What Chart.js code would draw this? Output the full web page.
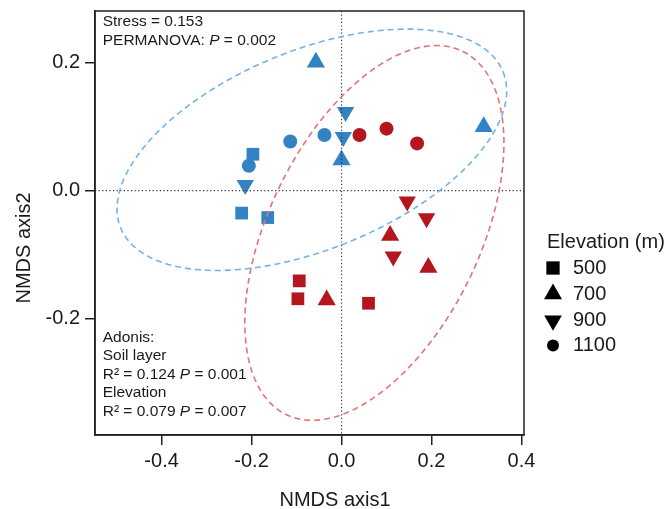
<!DOCTYPE html>
<html>
<head>
<meta charset="utf-8">
<script src="https://cdn.jsdelivr.net/npm/chart.js@4.4.0/dist/chart.umd.min.js"></script>
<style>
  html, body { margin: 0; padding: 0; background: #fff; }
  canvas { display: block; }
</style>
</head>
<body>
<canvas id="nmds" width="671" height="509" style="width:671px;height:509px"></canvas>
<script>
// tick labels
const xTicks = [-0.4, -0.2, 0.0, 0.2, 0.4];
const yTicks = [-0.2, 0.0, 0.2];
const elevations = ['500', '700', '900', '1100'];

// site scores, one list per elevation; layer 0 = blue soil layer, 1 = red soil layer
const x500 = [-0.197, -0.222, -0.164, -0.094, -0.097, 0.060];
const y500 = [0.057, -0.035, -0.042, -0.141, -0.169, -0.176];
const layer500 = [0, 0, 0, 1, 1, 1];

const x700 = [-0.057, 0.000, 0.316, 0.108, 0.193, -0.033];
const y700 = [0.201, 0.048, 0.100, -0.070, -0.120, -0.171];
const layer700 = [0, 0, 0, 1, 1, 1];

const x900 = [-0.214, 0.009, 0.004, 0.146, 0.189, 0.115];
const y900 = [0.009, 0.123, 0.084, -0.017, -0.043, -0.103];
const layer900 = [0, 0, 0, 1, 1, 1];

const x1100 = [-0.206, -0.114, -0.038, 0.040, 0.100, 0.168];
const y1100 = [0.039, 0.077, 0.087, 0.087, 0.097, 0.074];
const layer1100 = [0, 0, 0, 1, 1, 1];

// confidence ellipses per soil layer: centre and two conjugate semi-axes (data units)
const ellipseCentre = [[-0.066, 0.064], [0.073, -0.066]];
const ellipseAxisU = [[0.425, 0.122], [0.196, 0.284]];
const ellipseAxisV = [[0.083, -0.144], [0.211, -0.072]];

const pointColours = ['#3383c4', '#b3161f'];
const ellipseColours = ['#72b3e6', '#e27375'];
const FONT = '"Liberation Sans", Arial, Helvetica, sans-serif';
const INK = '#1a1a1a';

function pts(xs, ys) {
    return xs.map((x, i) => ({ x: x, y: ys[i] }));
}

function drawRuns(ctx, runs, x, y, size) {
    for (const [text, italic] of runs) {
        ctx.font = (italic ? 'italic ' : '') + size + 'px ' + FONT;
        ctx.fillText(text, x, y);
        x += ctx.measureText(text).width;
    }
}

function noScalePadding(s) {
    s.paddingTop = 0;
    s.paddingBottom = 0;
    s.paddingLeft = 0;
    s.paddingRight = 0;
}

const overlay = {
    id: 'overlay',
    afterDatasetsDraw(chart) {
        const ctx = chart.ctx;
        const a = chart.chartArea;
        const xs = chart.scales.x, ys = chart.scales.y;
        ctx.save();
        ctx.beginPath();
        ctx.rect(a.left, a.top, a.right - a.left, a.bottom - a.top);
        ctx.clip();

        // dotted zero lines
        ctx.strokeStyle = '#333';
        ctx.lineWidth = 1.2;
        ctx.setLineDash([1.2, 2.4]);
        const x0 = xs.getPixelForValue(0), y0 = ys.getPixelForValue(0);
        ctx.beginPath();
        ctx.moveTo(a.left, y0); ctx.lineTo(a.right, y0);
        ctx.moveTo(x0, a.top); ctx.lineTo(x0, a.bottom);
        ctx.stroke();

        // dashed ellipses
        ctx.lineWidth = 1.6;
        ctx.setLineDash([6, 4]);
        for (let k = 0; k < ellipseCentre.length; k++) {
            const c = ellipseCentre[k], u = ellipseAxisU[k], v = ellipseAxisV[k];
            ctx.strokeStyle = ellipseColours[k];
            ctx.beginPath();
            for (let i = 0; i <= 240; i++) {
                const t = i / 240 * Math.PI * 2;
                const px = xs.getPixelForValue(c[0] + u[0] * Math.cos(t) + v[0] * Math.sin(t));
                const py = ys.getPixelForValue(c[1] + u[1] * Math.cos(t) + v[1] * Math.sin(t));
                if (i === 0) ctx.moveTo(px, py); else ctx.lineTo(px, py);
            }
            ctx.stroke();
        }
        ctx.restore();
    },
    afterDraw(chart) {
        const ctx = chart.ctx;
        const a = chart.chartArea;
        ctx.save();
        // box
        ctx.strokeStyle = '#222';
        ctx.lineWidth = 1.5;
        ctx.strokeRect(a.left, a.top, a.right - a.left, a.bottom - a.top);

        ctx.fillStyle = INK;
        ctx.textAlign = 'left';
        ctx.textBaseline = 'middle';
        const tx = a.left + 7.7;
        drawRuns(ctx, [['Stress = 0.153', false]], tx, 22, 15.5);
        drawRuns(ctx, [['PERMANOVA: ', false], ['P', true], [' = 0.002', false]], tx, 41, 15.5);
        drawRuns(ctx, [['Adonis:', false]], tx, 337.3, 15.5);
        drawRuns(ctx, [['Soil layer', false]], tx, 355.7, 15.5);
        drawRuns(ctx, [['R\u00B2 = 0.124 ', false], ['P', true], [' = 0.001', false]], tx, 374.3, 15.5);
        drawRuns(ctx, [['Elevation', false]], tx, 392.7, 15.5);
        drawRuns(ctx, [['R\u00B2 = 0.079 ', false], ['P', true], [' = 0.007', false]], tx, 411.7, 15.5);

        // axis titles
        ctx.font = '20px ' + FONT;
        ctx.textAlign = 'center';
        ctx.textBaseline = 'alphabetic';
        ctx.fillText('NMDS axis1', 335, 506);
        ctx.translate(30, 248);
        ctx.rotate(-Math.PI / 2);
        ctx.fillText('NMDS axis2', 0, 0);
        ctx.setTransform(1, 0, 0, 1, 0, 0);

        // legend
        ctx.textAlign = 'left';
        ctx.textBaseline = 'middle';
        ctx.font = '20px ' + FONT;
        ctx.fillText('Elevation (m)', 547, 242);
        const rows = [268, 294, 320.5, 345.5];
        const radii = [9.4, 10.4, 10.2, 6];
        chart.data.datasets.forEach((ds, i) => {
            ctx.fillStyle = '#000';
            Chart.helpers.drawPoint(ctx, {
                pointStyle: ds.pointStyle,
                radius: radii[i],
                rotation: ds.pointRotation || 0,
                borderWidth: 0
            }, 553, rows[i]);
            ctx.fillStyle = INK;
            ctx.fillText(ds.label, 573, rows[i]);
        });
        ctx.restore();
    }
};

const ctx = document.getElementById('nmds');
new Chart(ctx, {
    type: 'scatter',
    data: {
        datasets: [{
            label: elevations[0],
            data: pts(x500, y500),
            pointStyle: 'rect',
            pointRadius: 9,
            pointBackgroundColor: layer500.map(l => pointColours[l])
        }, {
            label: elevations[1],
            data: pts(x700, y700),
            pointStyle: 'triangle',
            pointRadius: 10.5,
            pointBackgroundColor: layer700.map(l => pointColours[l])
        }, {
            label: elevations[2],
            data: pts(x900, y900),
            pointStyle: 'triangle',
            pointRotation: 180,
            pointRadius: 10,
            pointBackgroundColor: layer900.map(l => pointColours[l])
        }, {
            label: elevations[3],
            data: pts(x1100, y1100),
            pointStyle: 'circle',
            pointRadius: 7,
            pointBackgroundColor: layer1100.map(l => pointColours[l])
        }]
    },
    options: {
        responsive: false,
        animation: false,
        devicePixelRatio: 1,
        layout: { padding: { top: 11, right: 147, left: 0, bottom: 0 } },
        elements: { point: { borderWidth: 0, hoverRadius: 0, hitRadius: 0 } },
        plugins: { legend: { display: false }, tooltip: { enabled: false } },
        events: [],
        scales: {
            x: {
                type: 'linear',
                min: -0.548,
                max: 0.4056,
                afterBuildTicks: s => { s.ticks = xTicks.map(v => ({ value: v })); },
                afterFit: s => { s.height = 74; noScalePadding(s); },
                grid: { drawOnChartArea: false, drawTicks: true, tickLength: 10, color: '#222', lineWidth: 1.5 },
                border: { display: true, color: '#222', width: 1.5 },
                ticks: {
                    autoSkip: false, maxRotation: 0, padding: 4, color: INK,
                    font: { family: FONT, size: 20 },
                    callback: v => v.toFixed(1)
                }
            },
            y: {
                type: 'linear',
                min: -0.382,
                max: 0.281,
                afterBuildTicks: s => { s.ticks = yTicks.map(v => ({ value: v })); },
                afterFit: s => { s.width = 95; noScalePadding(s); },
                grid: { drawOnChartArea: false, drawTicks: true, tickLength: 10, color: '#222', lineWidth: 1.5 },
                border: { display: true, color: '#222', width: 1.5 },
                ticks: {
                    autoSkip: false, padding: 5, color: INK,
                    font: { family: FONT, size: 20 },
                    callback: v => v.toFixed(1)
                }
            }
        }
    },
    plugins: [overlay]
});
</script>
</body>
</html>
